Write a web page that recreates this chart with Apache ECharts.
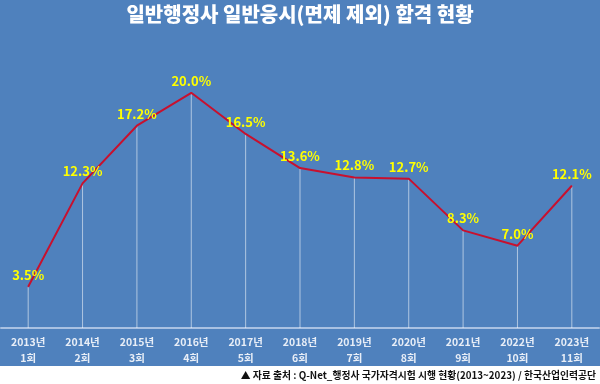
<!DOCTYPE html>
<html><head><meta charset="utf-8">
<script src="https://cdn.jsdelivr.net/npm/echarts@6/dist/echarts.min.js"></script>
<style>html,body{margin:0;padding:0;background:#fff}#c{width:600px;height:384px}</style>
</head><body><div id="c"></div>
<script>
var years = ['2013년','2014년','2015년','2016년','2017년','2018년','2019년','2020년','2021년','2022년','2023년'];
var rounds = ['1회','2회','3회','4회','5회','6회','7회','8회','9회','10회','11회'];
var passRate = [3.5, 12.3, 17.2, 20.0, 16.5, 13.6, 12.8, 12.7, 8.3, 7.0, 12.1];
var titleText = '일반행정사 일반응시(면제 제외) 합격 현황';
var sourceText = '▲ 자료 출처 : Q-Net_행정사 국가자격시험 시행 현황(2013~2023) / 한국산업인력공단';

var cats = years.map(function(y,i){return y+'\n'+rounds[i];});
var FONT = '"Noto Sans CJK KR", "Noto Sans", sans-serif';
var chart = echarts.init(document.getElementById('c'), null, {renderer:'canvas'});
chart.setOption({
  backgroundColor:'#ffffff',
  animation:false,
  graphic:[
    {type:'rect', z:-10, shape:{x:0,y:0,width:600,height:366}, style:{fill:'#4f81bd'}},
    {type:'text', left:'center', top:4, style:{text:titleText, fill:'#ffffff', font:'900 20px '+FONT, shadowColor:'rgba(0,0,0,0.35)', shadowBlur:2, shadowOffsetX:1, shadowOffsetY:1}},
    {type:'text', right:4, top:370, style:{text:sourceText, fill:'#111111', font:'bold 9.8px '+FONT}}
  ],
  grid:{left:1, right:1, top:34, bottom:56},
  xAxis:{type:'category', data:cats, boundaryGap:true,
    axisLine:{lineStyle:{color:'#a9c1e2', width:2}},
    axisTick:{show:false},
    axisLabel:{color:'#e8eef7', fontFamily:FONT, fontWeight:'bold', fontSize:10.5, lineHeight:16, margin:6, interval:0},
    splitLine:{show:false}},
  yAxis:{type:'value', min:0, max:25, show:false, splitLine:{show:false}},
  series:[
    {type:'bar', data:passRate, barWidth:1, itemStyle:{color:'rgba(255,255,255,0.55)'}, silent:true, z:1},
    {type:'line', data:passRate, symbol:'circle', symbolSize:1, showSymbol:true,
      itemStyle:{color:'#c8102e'}, lineStyle:{color:'#c8102e', width:2}, z:3,
      label:{show:true, position:'top', distance:5, color:'#ffff00', fontFamily:FONT, fontWeight:'bold', fontSize:13,
        formatter:function(p){return p.value.toFixed(1)+'%';}}}
  ]
});
</script></body></html>
